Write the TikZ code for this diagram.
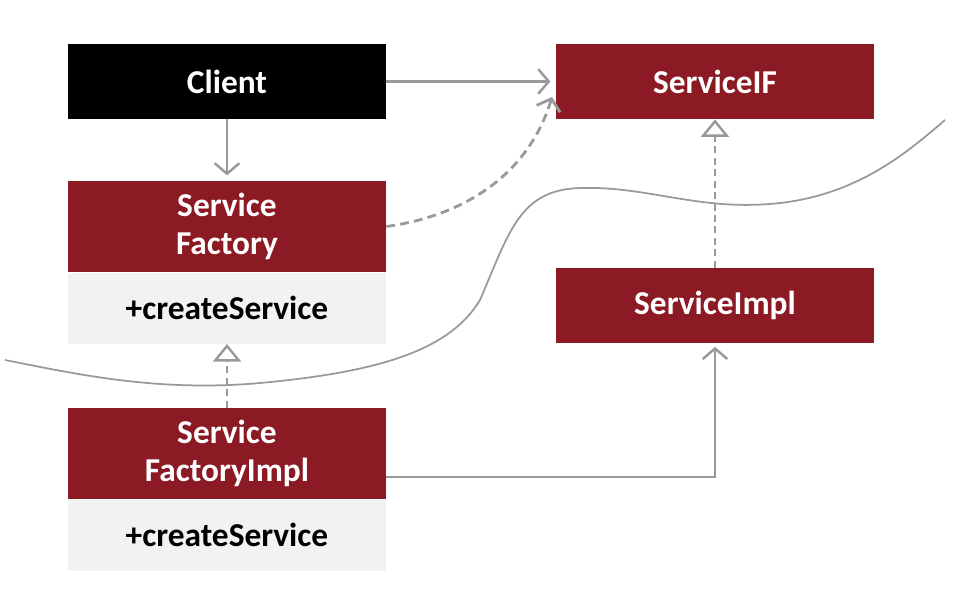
\documentclass[tikz,border=0pt]{standalone}
\usepackage{fontspec}
\setmainfont{Carlito}
\usepackage{tikz}
\usetikzlibrary{arrows.meta}

\definecolor{umlred}{HTML}{8B1A24}
\definecolor{umlgray}{HTML}{F2F2F2}
\definecolor{linegray}{HTML}{999999}

\tikzset{
  classbox/.style={fill=umlred, text=white, font=\bfseries\fontsize{19}{22}\selectfont,
    minimum width=6.36cm, align=center, inner sep=0pt},
  opsbox/.style={fill=umlgray, text=black, font=\bfseries\fontsize{19}{22}\selectfont,
    minimum width=6.36cm, minimum height=1.42cm, inner sep=0pt},
  assoc/.style={draw=linegray, line width=1.4pt, -{Straight Barb[length=6pt,width=14pt]}},
  realize/.style={draw=linegray, line width=1.4pt, dash pattern=on 4pt off 2.5pt,
    -{Triangle[open,length=10pt,width=16pt,fill=white]}},
  depend/.style={draw=linegray, line width=1.6pt, dash pattern=on 5pt off 3pt,
    -{Straight Barb[length=6pt,width=14pt]}}
}

\begin{document}
\begin{tikzpicture}[x=0.02cm,y=-0.02cm]

	\useasboundingbox (0,0) rectangle (962,590);

	% boundary line
	\draw[linegray, line width=1pt] (5,360) .. controls (80,375) and (160,392) .. (260,383)
		.. controls (380,372) and (450,350) .. (480,300)
		.. controls (510,230) and (520,190) .. (580,188)
		.. controls (650,186) and (700,212) .. (780,203)
		.. controls (860,194) and (910,150) .. (945,120);

	\node[classbox, fill=black, minimum height=1.5cm] (client) at (227,81.5) {Client};
	\node[classbox, minimum height=1.5cm] (serviceIF) at (715,81.5) {ServiceIF};

	\node[classbox, minimum height=1.82cm] (factory) at (227,226.5) {Service\\Factory};
	\node[opsbox, anchor=north] (factoryOps) at (factory.south) {+createService};

	\node[classbox, minimum height=1.5cm] (impl) at (715,305.5) {ServiceImpl};

	\node[classbox, minimum height=1.82cm] (factoryImpl) at (227,453.5) {Service\\FactoryImpl};
	\node[opsbox, anchor=north] (factoryImplOps) at (factoryImpl.south) {+createService};

	\coordinate (ifIn) at (552,97);
	\coordinate (turn) at (715,477);

	\draw[assoc, shorten >=3pt] (client.east) -- (client.east -| serviceIF.west);
	\draw[assoc, shorten >=3pt] (client.south) -- (factory.north);
	\draw[depend] (factory.east) .. controls (470,215) and (530,170) .. (ifIn);
	\draw[realize] (impl.north) -- (serviceIF.south);
	\draw[realize] (factoryImpl.north) -- (factoryOps.south);
	\draw[assoc, shorten >=2pt] (factoryImpl.east |- turn) -- (turn) -- (impl.south);

\end{tikzpicture}
\end{document}
